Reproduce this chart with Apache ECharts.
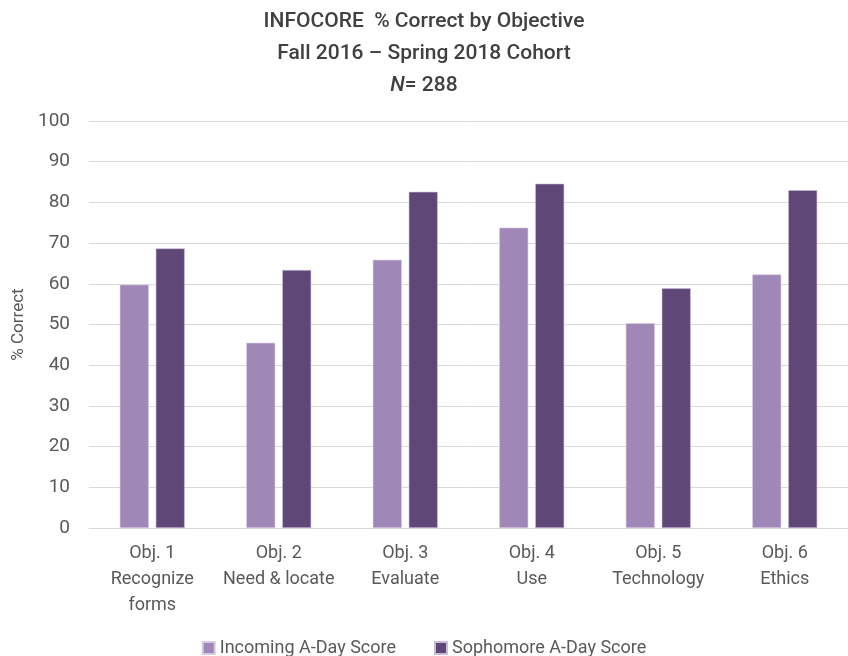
<!DOCTYPE html>
<html>
<head>
<meta charset="utf-8">
<script src="https://cdn.jsdelivr.net/npm/echarts@6/dist/echarts.min.js"></script>
<style>html,body{margin:0;padding:0;background:#fff}#c{width:848px;height:656px}</style>
</head>
<body>
<div id="c"></div>
<script>
const categories = ["Obj. 1\nRecognize\nforms", "Obj. 2\nNeed & locate", "Obj. 3\nEvaluate", "Obj. 4\nUse", "Obj. 5\nTechnology", "Obj. 6\nEthics"];
const incoming = [59.8, 45.5, 65.9, 73.8, 50.3, 62.3];
const sophomore = [68.7, 63.4, 82.6, 84.6, 58.9, 83.0];
const seriesNames = ["Incoming A-Day Score", "Sophomore A-Day Score"];
const yTicks = {min: 0, max: 100, interval: 10};

const FONT = 'Roboto, "Open Sans", sans-serif';
const chart = echarts.init(document.getElementById('c'));
chart.setOption({
  animation: false,
  textStyle: {fontFamily: FONT},
  title: {
    text: '{t|INFOCORE  % Correct by Objective}\n{t|Fall 2016 \u2013 Spring 2018 Cohort}\n{i|N}{t|= 288}',
    left: 'center',
    top: 1,
    textStyle: {
      fontWeight: 'normal',
      rich: {
        t: {fontFamily: FONT, fontSize: 21, color: '#404040', lineHeight: 32, fontWeight: 500},
        i: {fontFamily: FONT, fontSize: 21, color: '#404040', lineHeight: 32, fontStyle: 'italic', fontWeight: 500}
      }
    }
  },
  legend: {
    top: 634,
    left: 'center',
    itemWidth: 12,
    itemHeight: 12,
    itemGap: 38,
    icon: 'rect',
    textStyle: {fontFamily: FONT, fontSize: 18, color: '#595959'},
    data: seriesNames
  },
  grid: {left: 89, width: 768, top: 121, height: 407},
  xAxis: {
    type: 'category',
    data: categories,
    axisLine: {lineStyle: {color: '#d9d9d9'}},
    axisTick: {show: false},
    axisLabel: {fontFamily: FONT, fontSize: 18, color: '#595959', lineHeight: 26, margin: 12, interval: 0}
  },
  yAxis: {
    type: 'value',
    min: yTicks.min, max: yTicks.max, interval: yTicks.interval,
    name: '% Correct',
    nameLocation: 'middle',
    nameGap: 60,
    nameRotate: 90,
    nameTextStyle: {fontFamily: FONT, fontSize: 17, color: '#595959'},
    axisLabel: {fontFamily: FONT, fontSize: 19, color: '#595959', margin: 19},
    splitLine: {lineStyle: {color: '#d9d9d9', width: 1}},
    axisLine: {show: false},
    axisTick: {show: false}
  },
  series: [
    {name: seriesNames[0], type: 'bar', data: incoming, barWidth: 29, barGap: '24%',
     itemStyle: {color: '#9F87B7', borderColor: '#d6cce2', borderWidth: 0.6}},
    {name: seriesNames[1], type: 'bar', data: sophomore, barWidth: 29,
     itemStyle: {color: '#5F4877', borderColor: '#c9bcd8', borderWidth: 0.6}}
  ]
});
</script>
</body>
</html>
